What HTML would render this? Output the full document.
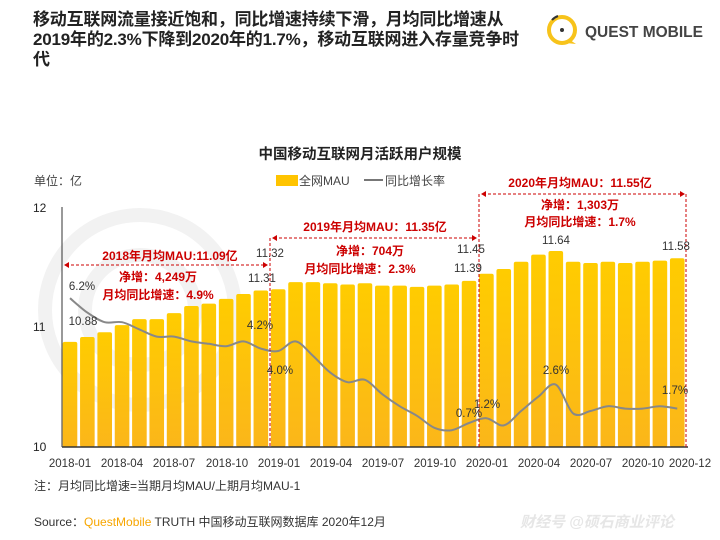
<!DOCTYPE html>
<html><head><meta charset="utf-8"><style>
body{margin:0;width:720px;height:540px;background:#fff;overflow:hidden;font-family:"Liberation Sans","Noto Sans CJK SC",sans-serif}
svg text{font-family:"Liberation Sans","Noto Sans CJK SC",sans-serif}
.t{position:absolute;left:33px;top:10px;white-space:nowrap;font-size:17px;line-height:20px;font-weight:bold;color:#222;letter-spacing:-0.2px}
</style></head><body>
<div class="t">移动互联网流量接近饱和，同比增速持续下滑，月均同比增速从<br>2019年的2.3%下降到2020年的1.7%，移动互联网进入存量竞争时<br>代</div>
<svg width="720" height="540" style="position:absolute;left:0;top:0">
<defs><linearGradient id="g" x1="0" y1="0" x2="0" y2="1"><stop offset="0" stop-color="#ffcc00"/><stop offset="1" stop-color="#fbb61a"/></linearGradient></defs>
<circle cx="562" cy="30" r="13" fill="none" stroke="#f7c31b" stroke-width="4"/>
<path d="M570 40 L576 44 L566 43Z" fill="#f7c31b"/>
<circle cx="562" cy="30" r="2" fill="#333"/>
<path d="M552 20 A15 15 0 0 1 558 16" stroke="#333" stroke-width="2" fill="none"/>
<text x="585" y="37" font-size="15.5" font-weight="bold" fill="#444">QUEST MOBILE</text>
<circle cx="140" cy="310" r="95" fill="none" stroke="#f2f2f2" stroke-width="14"/>
<circle cx="140" cy="310" r="55" fill="none" stroke="#f2f2f2" stroke-width="14"/>
<text x="360" y="159" font-size="14.5" font-weight="bold" fill="#222" text-anchor="middle">中国移动互联网月活跃用户规模</text>
<text x="34" y="185" font-size="12" fill="#444">单位：亿</text>
<rect x="276" y="175" width="22" height="11" fill="#ffc400"/>
<text x="299" y="185" font-size="12" fill="#444">全网MAU</text>
<line x1="364" y1="180" x2="383" y2="180" stroke="#777" stroke-width="2"/>
<text x="385" y="185" font-size="12" fill="#444">同比增长率</text>
<g id="bars"></g>
<line x1="62" y1="207" x2="62" y2="447" stroke="#333" stroke-width="1"/>
<line x1="62" y1="447" x2="688" y2="447" stroke="#333" stroke-width="1.5"/>
<text x="33" y="212" font-size="12" fill="#222">12</text>
<text x="33" y="331" font-size="12" fill="#222">11</text>
<text x="33" y="451" font-size="12" fill="#222">10</text>
<path id="ln" fill="none" stroke="#888" stroke-width="2"/>
<g stroke="#c00" stroke-width="1" stroke-dasharray="3,2" fill="none">
<line x1="270" y1="238" x2="270" y2="447"/><line x1="479" y1="194" x2="479" y2="447"/><line x1="686" y1="194" x2="686" y2="447"/>
<line x1="66" y1="265" x2="266" y2="265"/><line x1="274" y1="238" x2="476" y2="238"/><line x1="483" y1="194" x2="683" y2="194"/>
</g>
<g fill="#c00"><path d="M64 265 l5 -3 v6z"/><path d="M268 265 l-5 -3 v6z"/><path d="M272 238 l5 -3 v6z"/><path d="M477 238 l-5 -3 v6z"/><path d="M481 194 l5 -3 v6z"/><path d="M685 194 l-5 -3 v6z"/></g>
<g font-size="12" font-weight="bold" fill="#c00" text-anchor="middle">
<text x="170" y="260">2018年月均MAU:11.09亿</text>
<text x="158" y="281">净增：4,249万</text>
<text x="158" y="299">月均同比增速：4.9%</text>
<text x="375" y="231">2019年月均MAU：11.35亿</text>
<text x="370" y="255">净增：704万</text>
<text x="360" y="273">月均同比增速：2.3%</text>
<text x="580" y="187">2020年月均MAU：11.55亿</text>
<text x="580" y="209">净增：1,303万</text>
<text x="580" y="226">月均同比增速：1.7%</text>
</g>
<g font-size="11.5" fill="#333" text-anchor="middle">
<text x="83" y="325">10.88</text><text x="82" y="290">6.2%</text>
<text x="270" y="257">11.32</text><text x="262" y="282">11.31</text>
<text x="260" y="329">4.2%</text><text x="280" y="374">4.0%</text>
<text x="468" y="272">11.39</text><text x="471" y="253">11.45</text>
<text x="469" y="417">0.7%</text><text x="487" y="408">1.2%</text>
<text x="556" y="244">11.64</text><text x="556" y="374">2.6%</text>
<text x="676" y="250">11.58</text><text x="675" y="394">1.7%</text>
</g>
<g font-size="11.5" fill="#333" text-anchor="middle">
<text x="70" y="467">2018-01</text><text x="122" y="467">2018-04</text><text x="174" y="467">2018-07</text><text x="227" y="467">2018-10</text>
<text x="279" y="467">2019-01</text><text x="331" y="467">2019-04</text><text x="383" y="467">2019-07</text><text x="435" y="467">2019-10</text>
<text x="487" y="467">2020-01</text><text x="539" y="467">2020-04</text><text x="591" y="467">2020-07</text><text x="643" y="467">2020-10</text><text x="690" y="467">2020-12</text>
</g>
<text x="34" y="490" font-size="12" fill="#333">注：月均同比增速=当期月均MAU/上期月均MAU-1</text>
<text x="34" y="526" font-size="12" fill="#333">Source：<tspan fill="#f7a600">QuestMobile</tspan> TRUTH 中国移动互联网数据库 2020年12月</text>
<text x="520" y="527" font-size="15" fill="#e6e6e6" font-style="italic" font-weight="bold">财经号 @硕石商业评论</text>
</svg>
<script>
var v=[10.88,10.92,10.96,11.02,11.07,11.07,11.12,11.18,11.2,11.24,11.28,11.31,11.32,11.38,11.38,11.37,11.36,11.37,11.35,11.35,11.34,11.35,11.36,11.39,11.45,11.49,11.55,11.61,11.64,11.55,11.54,11.55,11.54,11.55,11.56,11.58];
var p=[6.2,5.6,5.2,5.2,4.9,4.6,4.6,4.4,4.3,4.2,4.4,4.1,4.0,4.4,3.8,3.1,2.7,2.8,2.2,1.7,1.3,0.8,0.7,1.0,1.2,0.9,1.5,2.1,2.6,1.4,1.5,1.7,1.6,1.6,1.7,1.6];
var s='',pts=[];
for(var i=0;i<36;i++){var cx=70+i*17.35,y=447-(v[i]-10)*119.5;
s+='<rect x="'+(cx-7.3)+'" y="'+y+'" width="14.6" height="'+(447-y)+'" rx="2" fill="url(#g)"/>';
pts.push([cx,447-24*p[i]]);}
document.getElementById('bars').innerHTML=s;
var d='M'+pts[0][0]+' '+pts[0][1];
for(var i=0;i<35;i++){var p0=pts[Math.max(i-1,0)],p1=pts[i],p2=pts[i+1],p3=pts[Math.min(i+2,35)];
d+=' C'+(p1[0]+(p2[0]-p0[0])/6)+' '+(p1[1]+(p2[1]-p0[1])/6)+' '+(p2[0]-(p3[0]-p1[0])/6)+' '+(p2[1]-(p3[1]-p1[1])/6)+' '+p2[0]+' '+p2[1];}
document.getElementById('ln').setAttribute('d',d);
</script>
</body></html>
